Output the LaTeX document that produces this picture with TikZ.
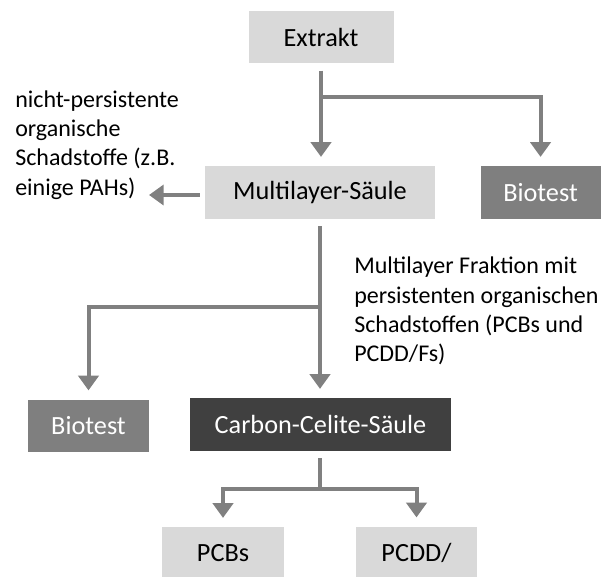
\documentclass[tikz,border=0pt]{standalone}
\usepackage{fontspec}
\setmainfont{Carlito}
\usepackage{tikz}
\usetikzlibrary{arrows.meta, positioning}
\definecolor{boxlight}{RGB}{217,217,217}
\definecolor{boxmid}{RGB}{127,127,127}
\definecolor{boxdark}{RGB}{64,64,64}
\definecolor{arrowgray}{RGB}{128,128,128}
\tikzset{
  block/.style={rectangle, inner sep=0pt, minimum height=39.5pt,
    text centered, font=\fontsize{19.7}{24}\selectfont},
  lightblock/.style={block, fill=boxlight, text=black},
  midblock/.style={block, fill=boxmid, text=white},
  darkblock/.style={block, fill=boxdark, text=white},
  note/.style={align=left, inner sep=0pt, font=\fontsize{18}{22}\selectfont},
  arrow/.style={-{Triangle[width=15pt,length=11pt]}, line width=3pt,
    color=arrowgray, shorten >=6.75pt},
  line/.style={line width=3pt, color=arrowgray},
}
\begin{document}
\begin{tikzpicture}[x=0.75pt, y=-0.75pt]
  \useasboundingbox (0,0) rectangle (607,576);

  \node[lightblock, minimum width=108.75pt] (extrakt) at (321,37) {Extrakt};
  \node[lightblock, minimum width=172.5pt] (multi) at (320,192.5) {Multilayer-Säule};
  \node[midblock, minimum width=90pt, right=33.75pt of multi] (biotestR) {Biotest};
  \node[darkblock, minimum width=195.75pt] (carbon) at (320.5,424.5) {Carbon-Celite-Säule};
  \node[midblock, minimum width=90.75pt] (biotestL) at (88.5,426) {Biotest};
  \node[lightblock, minimum width=91.5pt] (pcbs) at (223,553.5) {PCBs};
  \node[lightblock, minimum width=90.75pt] (pcdd) at (416.5,553) {PCDD/};

  \node[note, anchor=west] (nonpers) at (15,145)
    {nicht-persistente\\organische\\Schadstoffe (z.B.\\einige PAHs)};
  \node[note, anchor=west] (pers) at (354,311)
    {Multilayer Fraktion mit\\persistenten organischen\\Schadstoffen (PCBs und\\PCDD/Fs)};

  \coordinate (split1) at (321,97);
  \coordinate (split2) at (320,307);
  \coordinate (split3) at (320,489);
  \coordinate (tipL) at (149,195);

  % Extrakt
  \draw[arrow, shorten <=5.25pt] (extrakt.south -| split1) -- (multi.north -| split1);
  \draw[arrow] (split1) -| (biotestR.north);
  % Multilayer
  \draw[arrow, shorten >=0pt, shorten <=3.75pt] (multi.west |- tipL) -- (tipL);
  \draw[arrow, shorten <=5.25pt] (multi.south -| split2) -- (carbon.north -| split2);
  \draw[arrow] (split2) -| (biotestL.north);
  % Carbon-Celite
  \draw[line, shorten <=5.25pt] (carbon.south -| split3) -- (split3);
  \draw[arrow] (split3) -| (pcbs.north);
  \draw[arrow] (split3) -| (pcdd.north);
\end{tikzpicture}
\end{document}
